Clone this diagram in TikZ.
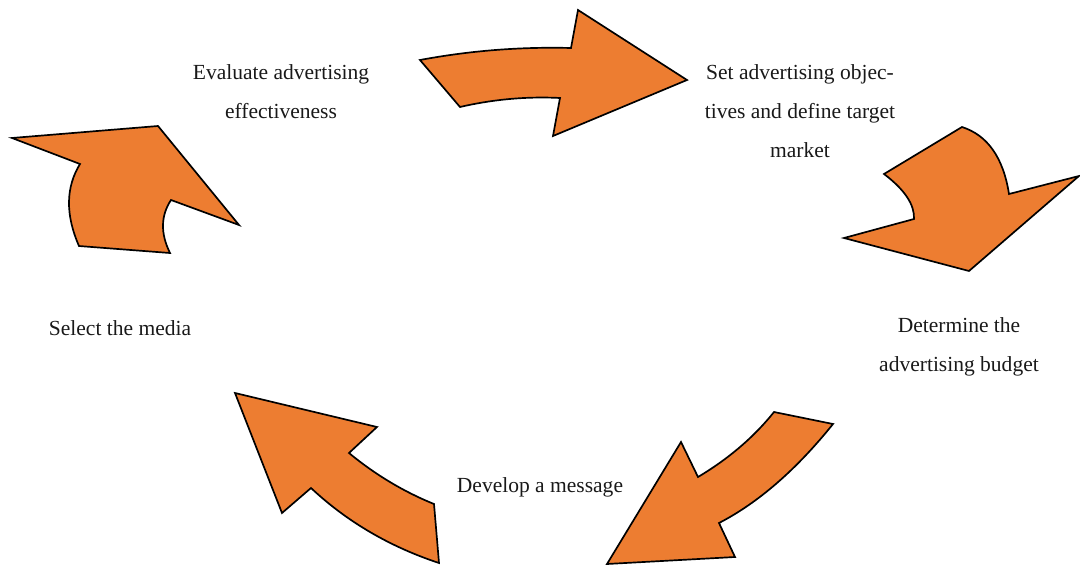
\documentclass[tikz,border=0pt]{standalone}
\usepackage{fontspec}
\setmainfont{Liberation Serif}
\definecolor{arroworange}{HTML}{ED7D31}
\tikzset{
  bigarrow/.style={fill=arroworange,draw=black,line width=1.2pt,line join=miter},
  steptext/.style={align=center,font=\fontsize{15.3}{27.7}\selectfont,text=black!90}
}
\begin{document}
\begin{tikzpicture}[x=0.025cm,y=-0.025cm]
\useasboundingbox (0,0) rectangle (1080,565);
% top arrow
\coordinate (A1) at (420,60);
\coordinate (A2) at (460,107);
\coordinate (A3) at (560,98);
\coordinate (A4) at (553,136);
\coordinate (A5) at (687,80);
\coordinate (A6) at (578,10);
\coordinate (A7) at (571,48);
\draw[bigarrow] (A1) -- (A2) .. controls (493.3,99.3) and (526.7,96.3) .. (A3) -- (A4) -- (A5) -- (A6) -- (A7) .. controls (520,46.7) and (469.7,50.7) .. (A1) -- cycle;
% right arrow
\coordinate (B1) at (962,127);
\coordinate (B2) at (884,174);
\coordinate (B3) at (914,219);
\coordinate (B4) at (844,238);
\coordinate (B5) at (969,271);
\coordinate (B6) at (1079,176);
\coordinate (B7) at (1009,194);
\draw[bigarrow] (B1) -- (B2) .. controls (904.7,189.7) and (914.7,204.7) .. (B3) -- (B4) -- (B5) -- (B6) -- (B7) .. controls (1003.3,157.7) and (987.7,135.3) .. (B1) -- cycle;
% bottom right arrow
\coordinate (C1) at (774,412);
\coordinate (C2) at (833,424);
\coordinate (C3) at (719,523);
\coordinate (C4) at (735,557);
\coordinate (C5) at (607,564);
\coordinate (C6) at (681,442);
\coordinate (C7) at (698,477);
\draw[bigarrow] (C1) -- (C2) .. controls (796.3,469.7) and (758.3,502.7) .. (C3) -- (C4) -- (C5) -- (C6) -- (C7) .. controls (728.7,458.7) and (754,437) .. (C1) -- cycle;
% bottom left arrow
\coordinate (D1) at (235,393);
\coordinate (D2) at (377,427);
\coordinate (D3) at (349,453);
\coordinate (D4) at (434,504);
\coordinate (D5) at (439,563);
\coordinate (D6) at (311,488);
\coordinate (D7) at (282,513);
\draw[bigarrow] (D1) -- (D2) -- (D3) .. controls (375.3,474.7) and (403.7,491.7) .. (D4) -- (D5) .. controls (389.7,546.7) and (347,521.7) .. (D6) -- (D7) -- (D1) -- cycle;
% left arrow
\coordinate (E1) at (12,138);
\coordinate (E2) at (158,126);
\coordinate (E3) at (239,225);
\coordinate (E4) at (171,200);
\coordinate (E5) at (170,253);
\coordinate (E6) at (79,246);
\coordinate (E7) at (80,164);
\draw[bigarrow] (E1) -- (E2) -- (E3) -- (E4) .. controls (160.7,215.7) and (160.3,233.3) .. (E5) -- (E6) .. controls (65.3,214.7) and (65.7,187.3) .. (E7) -- (E1) -- cycle;
% labels
\node[steptext] (objectives) at (800,111) {Set advertising objec-\\tives and define target\\market};
\node[steptext] (budget) at (959,347) {Determine the\\advertising budget};
\node[steptext] (message) at (540,487) {Develop a message};
\node[steptext] (media) at (120,328) {Select the media};
\node[steptext] (evaluate) at (281,92) {Evaluate advertising\\effectiveness};
\end{tikzpicture}
\end{document}
